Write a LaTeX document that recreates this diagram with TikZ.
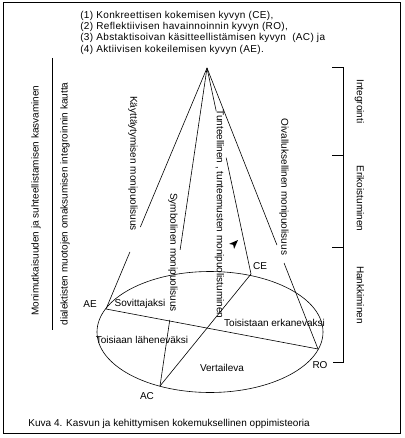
\documentclass[tikz,border=0pt]{standalone}
\usepackage{fontspec}
\setmainfont{Liberation Sans}
\usetikzlibrary{calc}

\begin{document}
\begin{tikzpicture}[x=1pt, y=-1pt, line width=0.6pt,
  txt/.style={font=\fontsize{10}{12}\selectfont, inner sep=0pt, text height=7.2pt, text depth=0pt},
  head/.style={txt, anchor=base west, font=\fontsize{10}{12}\selectfont\addfontfeature{LetterSpace=3.5}},
  down/.style={txt, rotate=-90},
  up/.style={txt, rotate=90}]
\useasboundingbox (0,0) rectangle (404,438);

% Frame
\draw[line width=0.8pt] (3,2) rectangle (400,433);

% Header
\node[head] (h1) at (80,18.3) {(1) Konkreettisen kokemisen kyvyn (CE),};
\node[head] (h2) at (80,29.6) {(2) Reflektiivisen havainnoinnin kyvyn (RO),};
\node[head] (h3) at (80,40.9) {(3) Abstaktisoivan käsitteellistämisen kyvyn \ (AC) ja};
\node[head] (h4) at (80,52.2) {(4) Aktiivisen kokeilemisen kyvyn (AE).};

% Left side texts
\node[up] (complex) at (35,200.5) {Monimutkaisuuden ja suhteellistamisen kasvaminen};
\draw (52,58) -- (52,330);
\node[up] (dialect) at (64,204) {dialektisten muotojen omaksumisen integroinnin kautta};

% Right bracket
\draw (332,67) -- (343,67) -- (343,362) -- (333,362);
\draw (332,155) -- (343,155);
\draw (332,247) -- (343,247);
\node[down] (integ) at (360.5,101.5) {Integrointi};
\node[down] (erik) at (360.5,198.5) {Erikoistuminen};
\node[down] (hank) at (360.5,295) {Hankkiminen};

% Cone
\coordinate (apex) at (207,68);
\coordinate (AE) at (106,309);
\coordinate (AC) at (160,386);
\coordinate (CE) at (251,274);
\coordinate (RO) at (318,349);
\draw (210,332) ellipse [x radius=113pt, y radius=60.5pt];

\draw (apex) -- ($(apex)!0.660!(AE)$);
\draw ($(apex)!0.763!(AE)$) -- (AE);
\draw (apex) -- ($(apex)!0.572!(AC)$);
\draw ($(apex)!0.792!(AC)$) -- (AC);
\draw (apex) -- ($(apex)!0.210!(CE)$);
\draw ($(apex)!0.435!(CE)$) -- (CE);
\draw (apex) -- ($(apex)!0.630!(RO)$);
\draw ($(apex)!0.694!(RO)$) -- (RO);

\draw (AE) -- (RO);
\draw (AC) -- (CE);

% Cone side labels
\node[down] (behav) at (134,163.5) {Käyttäytymisen monipuolisuus};
\node[down] (symb) at (174,252.5) {Symbolinen monipuolisuus};
\node[down] (feel) at (220.5,214) {Tunteellinen , tunteemusten monipuolistuminen};
\node[down] (insight) at (285,187) {Oivalluksellinen monipuolisuus};

% Stray arrow tip
\fill (238,240) -- (229.1,243.9) -- (233.2,244.8) -- (234.1,248.9) -- cycle;

% Point labels
\node[txt] (lAE) at (90,303.5) {AE};
\node[txt] (lAC) at (147,396) {AC};
\node[txt] (lCE) at (260,266) {CE};
\node[txt] (lRO) at (320,365) {RO};

% Region labels
\node[txt] (sov) at (140,303) {Sovittajaksi};
\node[txt] (lah) at (142,340) {Toisiaan läheneväksi};
\node[txt] (ver) at (222,368) {Vertaileva};
\node[txt] (erk) at (274.5,323) {Toisistaan erkanevaksi};

% Caption
\node[txt, anchor=west, font=\fontsize{10}{12}\selectfont\addfontfeature{LetterSpace=0.5}] (caption) at (28,423) {Kuva 4. Kasvun ja kehittymisen kokemuksellinen oppimisteoria};
\end{tikzpicture}
\end{document}
